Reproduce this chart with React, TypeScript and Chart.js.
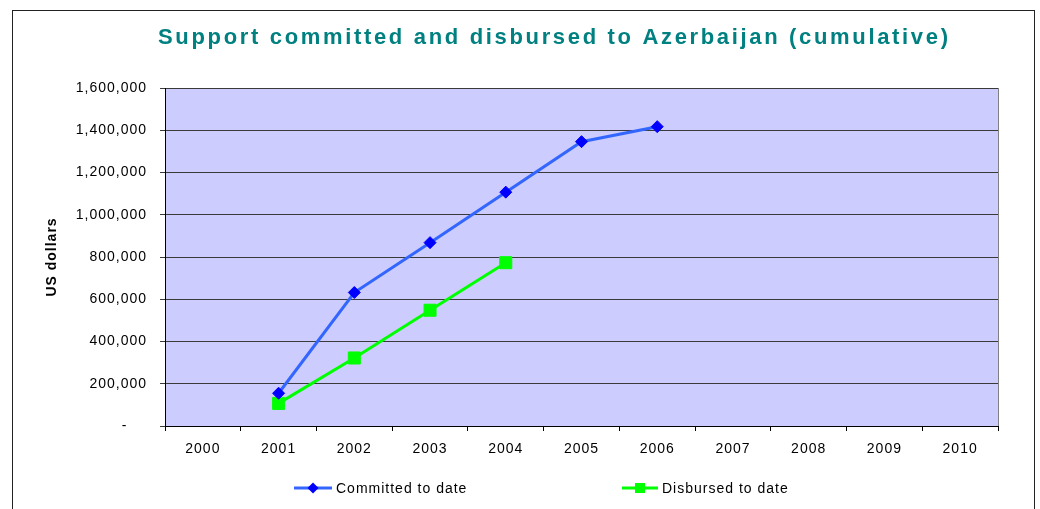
import React, { useEffect, useRef } from "react";
import { Chart, registerables } from "chart.js";

Chart.register(...registerables);

const TITLE = "Support committed and disbursed to Azerbaijan (cumulative)";
const Y_TITLE = "US dollars";
const years = ["2000", "2001", "2002", "2003", "2004", "2005", "2006", "2007", "2008", "2009", "2010"];
const committed: (number | null)[] = [null, 155000, 632000, 868000, 1107000, 1346000, 1417000, null, null, null, null];
const disbursed: (number | null)[] = [null, 107000, 322000, 548000, 773000, null, null, null, null, null, null];
const Y_MAX = 1600000;
const Y_STEP = 200000;
const FONT = "'Liberation Sans', Arial, sans-serif";

const framePlugin = {
  id: "frame",
  beforeDraw(chart: any) {
    const { ctx, chartArea } = chart;
    ctx.save();
    ctx.strokeStyle = "#222";
    ctx.lineWidth = 1;
    ctx.strokeRect(12.5, 10.5, 1022, 520);
    ctx.fillStyle = "#CCCCFF";
    ctx.fillRect(chartArea.left, chartArea.top, chartArea.right - chartArea.left, chartArea.bottom - chartArea.top);
    ctx.strokeStyle = "#808080";
    ctx.strokeRect(chartArea.left + 0.5, chartArea.top + 0.5, chartArea.right - chartArea.left, chartArea.bottom - chartArea.top);
    ctx.restore();
    ctx.letterSpacing = "1px";
  },
  afterDraw(chart: any) {
    const { ctx } = chart;
    ctx.save();
    ctx.font = `bold 22px ${FONT}`;
    ctx.fillStyle = "#008080";
    ctx.letterSpacing = "0px";
    const w0 = ctx.measureText(TITLE).width;
    const sp = (790 - w0) / (TITLE.length - 1);
    ctx.letterSpacing = `${sp}px`;
    ctx.textAlign = "left";
    ctx.textBaseline = "middle";
    ctx.fillText(TITLE, 158, 38);
    ctx.letterSpacing = "1px";
    ctx.font = `14px ${FONT}`;
    const items = [
      { x0: 294, x1: 332, tx: 336 },
      { x0: 622, x1: 658, tx: 662 },
    ];
    const y = 488;
    chart.data.datasets.forEach((ds: any, i: number) => {
      const it = items[i];
      ctx.strokeStyle = ds.borderColor;
      ctx.lineWidth = ds.borderWidth;
      ctx.beginPath();
      ctx.moveTo(it.x0, y);
      ctx.lineTo(it.x1, y);
      ctx.stroke();
      const cx = (it.x0 + it.x1) / 2;
      ctx.fillStyle = ds.pointBackgroundColor;
      ctx.beginPath();
      if (ds.pointStyle === "rectRot") {
        const r = 5.5;
        ctx.moveTo(cx, y - r);
        ctx.lineTo(cx + r, y);
        ctx.lineTo(cx, y + r);
        ctx.lineTo(cx - r, y);
        ctx.closePath();
      } else {
        ctx.rect(cx - 5, y - 5, 10, 10);
      }
      ctx.fill();
      ctx.fillStyle = "#000";
      ctx.textAlign = "left";
      ctx.textBaseline = "middle";
      ctx.fillText(ds.label, it.tx, y + 1);
    });
    ctx.restore();
  },
};

export default function App() {
  const ref = useRef<HTMLCanvasElement>(null);
  useEffect(() => {
    if (!ref.current) return;
    const chart = new Chart(ref.current, {
      type: "line",
      data: {
        labels: years,
        datasets: [
          {
            label: "Committed to date",
            data: committed,
            borderColor: "#3366FF",
            borderWidth: 3,
            pointStyle: "rectRot",
            pointRadius: 6,
            pointBackgroundColor: "#0000FF",
            pointBorderColor: "#0000FF",
            pointBorderWidth: 1,
            tension: 0,
          },
          {
            label: "Disbursed to date",
            data: disbursed,
            borderColor: "#00FF00",
            borderWidth: 3,
            pointStyle: "rect",
            pointRadius: 8.5,
            pointBackgroundColor: "#00FF00",
            pointBorderColor: "#00FF00",
            pointBorderWidth: 1,
            tension: 0,
          },
        ],
      },
      options: {
        animation: false,
        responsive: false,
        layout: { padding: { top: 88, right: 42, left: 0, bottom: 0 } },
        plugins: {
          legend: { display: false },
          title: { display: false },
          tooltip: { enabled: false },
        },
        scales: {
          x: {
            offset: true,
            grid: {
              offset: true,
              drawOnChartArea: false,
              drawTicks: true,
              tickLength: 5,
              color: "#000",
            },
            border: { color: "#000", width: 1 },
            ticks: {
              color: "#000",
              font: { family: FONT, size: 14 },
              padding: 10,
              maxRotation: 0,
            },
            afterFit(scale: any) {
              scale.height = 83;
            },
          },
          y: {
            min: 0,
            max: Y_MAX,
            grid: {
              color: "#3a3a3a",
              lineWidth: 1,
              drawTicks: true,
              tickLength: 5,
            },
            border: { color: "#000", width: 1 },
            ticks: {
              stepSize: Y_STEP,
              color: "#000",
              font: { family: FONT, size: 14 },
              padding: 13,
              callback: (v: any) => (Number(v) === 0 ? "-    " : Number(v).toLocaleString("en-US")),
            },
            title: {
              display: true,
              text: Y_TITLE,
              color: "#000",
              font: { family: FONT, size: 14, weight: "bold" },
              padding: { top: 44, bottom: 0 },
            },
            afterFit(scale: any) {
              scale.width = 165;
            },
          },
        },
      },
      plugins: [framePlugin],
    });
    return () => chart.destroy();
  }, []);
  return (
    <div style={{ position: "fixed", left: 0, top: 0, width: 1040, height: 509, background: "#fff" }}>
      <canvas ref={ref} width={1040} height={509} style={{ width: 1040, height: 509 }} />
    </div>
  );
}
